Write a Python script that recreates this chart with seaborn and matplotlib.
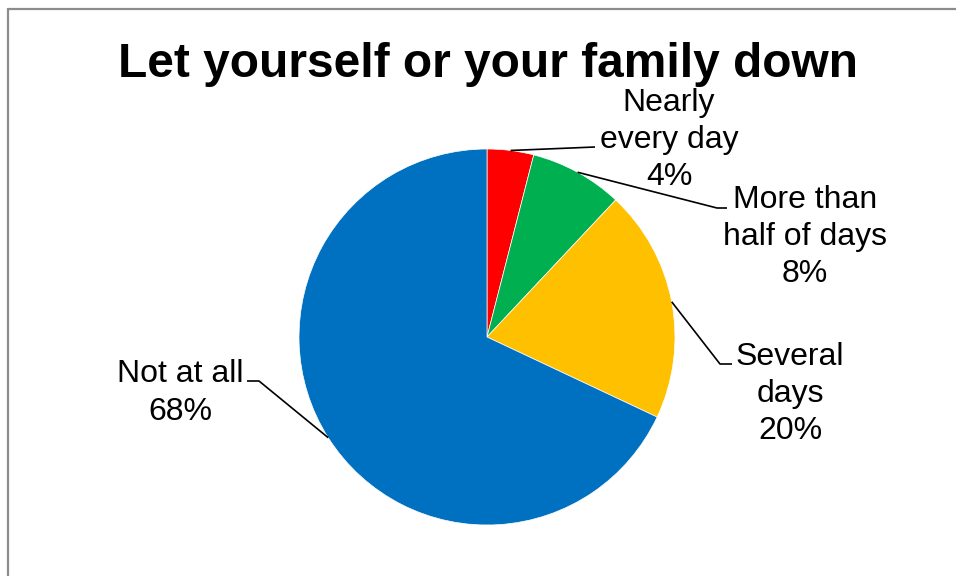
import numpy as np
import matplotlib
matplotlib.use("Agg")
import matplotlib.pyplot as plt
from matplotlib.lines import Line2D
import seaborn as sns

# Survey responses
categories = ["Nearly\nevery day", "More than\nhalf of days", "Several\ndays", "Not at all"]
shares = [4, 8, 20, 68]
colors = ["#FF0000", "#00B050", "#FFC000", "#0070C0"]
title = "Let yourself or your family down"

sns.set_theme(style="white")
plt.rcParams["font.family"] = ["Liberation Sans", "DejaVu Sans"]

W, H = 956, 576
fig = plt.figure(figsize=(W / 100, H / 100), dpi=100)
ax = fig.add_axes([0, 0, 1, 1])

def py(y):
    # pixel row (from top) -> data y
    return H - y

cx, cy, r = 487, 337, 188
wedges, _ = ax.pie(
    shares,
    colors=sns.color_palette(colors),
    startangle=90,
    counterclock=False,
    center=(cx, py(cy)),
    radius=r,
    frame=True,
    wedgeprops=dict(edgecolor="white", linewidth=0.5),
)
ax.set_xlim(0, W)
ax.set_ylim(0, H)
ax.axis("off")

# label anchor (text centre) and leader elbow points, in pixels from top-left
label_pos = [(669, 140), (805, 237), (790, 394), (180, 393)]
elbows = [
    [(595, 147)],
    [(717, 208), (727, 208)],
    [(720, 364), (732, 364)],
    [(259, 381), (247, 381)],
]

for w, cat, val, (lx, ly), elb in zip(wedges, categories, shares, label_pos, elbows):
    mid = np.deg2rad((w.theta1 + w.theta2) / 2)
    sx = w.center[0] + w.r * np.cos(mid)
    sy = w.center[1] + w.r * np.sin(mid)
    xs = [sx] + [e[0] for e in elb]
    ys = [sy] + [py(e[1]) for e in elb]
    ax.plot(xs, ys, color="black", linewidth=1.2, solid_capstyle="butt")
    ax.text(lx, py(ly), f"{cat}\n{val}%", ha="center", va="center",
            multialignment="center", fontsize=23, color="black", linespacing=1.32)

ax.text(488, py(77), title, ha="center", va="baseline", fontsize=34.5,
        fontweight="bold", color="black")

# chart area frame (left and top edges)
fig.add_artist(Line2D([8 / W, 8 / W], [0, 1 - 9 / H], color="#8c8c8c", linewidth=1.6,
                      transform=fig.transFigure))
fig.add_artist(Line2D([8 / W, 1], [1 - 9 / H, 1 - 9 / H], color="#8c8c8c", linewidth=1.6,
                      transform=fig.transFigure))

fig.savefig("out.png", dpi=100, facecolor="white")
